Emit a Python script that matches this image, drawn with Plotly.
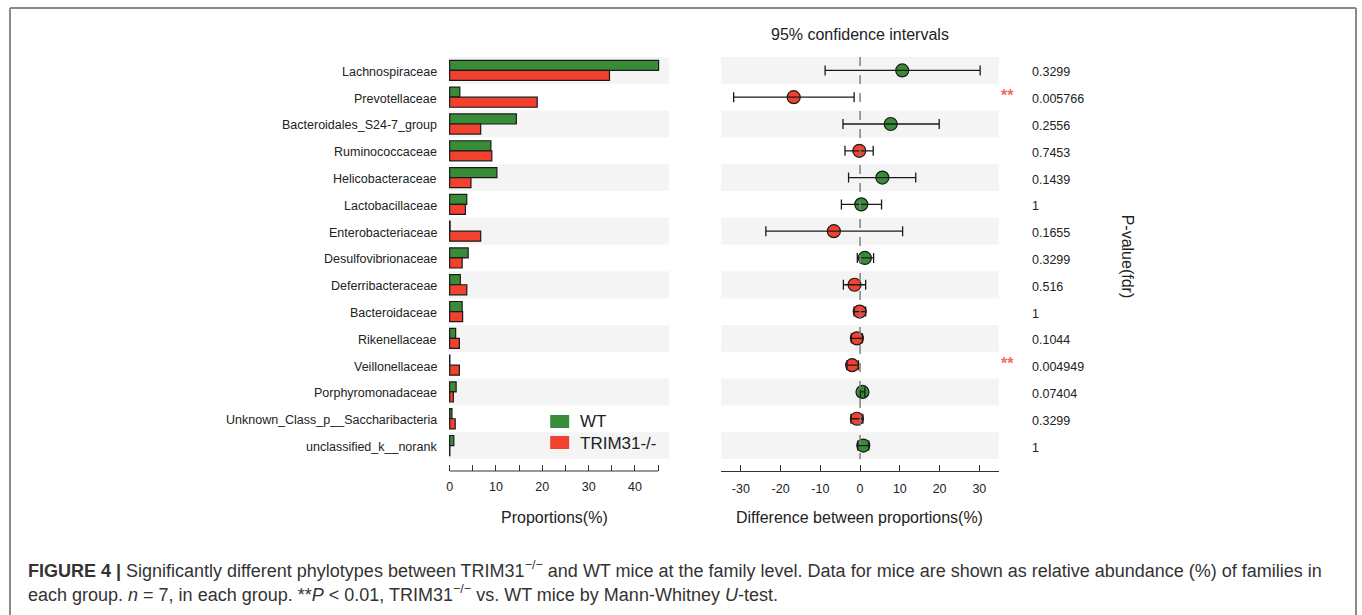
import plotly.graph_objects as go

# ---- data -------------------------------------------------------------
families = [
    "Lachnospiraceae", "Prevotellaceae", "Bacteroidales_S24-7_group",
    "Ruminococcaceae", "Helicobacteraceae", "Lactobacillaceae",
    "Enterobacteriaceae", "Desulfovibrionaceae", "Deferribacteraceae",
    "Bacteroidaceae", "Rikenellaceae", "Veillonellaceae",
    "Porphyromonadaceae", "Unknown_Class_p__Saccharibacteria",
    "unclassified_k__norank",
]
wt_prop = [45.1, 2.2, 14.4, 8.9, 10.2, 3.7, 0.1, 4.0, 2.3, 2.7, 1.3, 0.05, 1.4, 0.5, 0.9]
ko_prop = [34.5, 18.9, 6.7, 9.1, 4.6, 3.4, 6.7, 2.7, 3.7, 2.8, 2.1, 2.1, 0.8, 1.2, 0.05]
diff_mean = [10.6, -16.7, 7.7, -0.2, 5.6, 0.3, -6.6, 1.2, -1.4, -0.1, -0.8, -2.0, 0.6, -0.8, 0.8]
ci_low = [-8.8, -31.8, -4.3, -3.8, -2.9, -4.7, -23.7, -0.7, -4.2, -1.5, -2.2, -3.3, 0.1, -2.3, -0.6]
ci_high = [30.2, -1.5, 19.9, 3.3, 14.0, 5.4, 10.7, 3.4, 1.4, 1.4, 0.6, -0.4, 1.2, 0.7, 2.2]
p_fdr = ["0.3299", "0.005766", "0.2556", "0.7453", "0.1439", "1", "0.1655", "0.3299",
         "0.516", "1", "0.1044", "0.004949", "0.07404", "0.3299", "1"]
signif = ["", "**", "", "", "", "", "", "", "", "", "", "**", "", "", ""]

groups = ["WT", "TRIM31-/-"]
prop_labels = [0, 10, 20, 30, 40]
prop_minor = [5, 15, 25, 35, 45]
diff_labels = [-30, -20, -10, 0, 10, 20, 30]
diff_label_text = ["-30", "-20", "-10", "0", "10", "20", "30"]
diff_minor = [-35, 35]

# ---- styling ------------------------------------------------------------
W, H = 1362, 615
GREEN = "#388c38"
RED = "#f2412f"
STRIPE = "#f4f4f4"
FONT = "Liberation Sans, Arial, sans-serif"
TXT = "#222222"


def fx(px):
    return px / W


def fy(py):
    return 1 - py / H


rows = list(range(len(families)))
n = len(families)

fig = go.Figure()

# proportion bars (left panel)
fig.add_trace(go.Bar(
    y=rows, x=wt_prop, orientation="h", name=groups[0],
    marker=dict(color=GREEN, line=dict(color="#1a1a1a", width=1.2)),
    xaxis="x", yaxis="y", showlegend=False,
))
fig.add_trace(go.Bar(
    y=rows, x=ko_prop, orientation="h", name=groups[1],
    marker=dict(color=RED, line=dict(color="#1a1a1a", width=1.2)),
    xaxis="x", yaxis="y", showlegend=False,
))

# difference points (right panel), error bars drawn on top of the circles
point_colors = [GREEN if d > 0 else RED for d in diff_mean]
fig.add_trace(go.Scatter(
    x=diff_mean, y=rows, mode="markers",
    marker=dict(size=13, color=point_colors, line=dict(color="#1a1a1a", width=1.2)),
    xaxis="x2", yaxis="y", showlegend=False, hoverinfo="skip",
))
fig.add_trace(go.Scatter(
    x=diff_mean, y=rows, mode="markers",
    marker=dict(size=1, color="rgba(0,0,0,0)"),
    error_x=dict(type="data", symmetric=False,
                 array=[h - d for h, d in zip(ci_high, diff_mean)],
                 arrayminus=[d - l for d, l in zip(diff_mean, ci_low)],
                 color="#1a1a1a", thickness=1.3, width=5),
    xaxis="x2", yaxis="y", showlegend=False,
))

shapes = []
# alternating row stripes
for i in rows:
    if i % 2 == 0:
        shapes.append(dict(type="rect", xref="x", yref="y", x0=-0.28, x1=47.35,
                           y0=i - 0.5, y1=i + 0.5, fillcolor=STRIPE,
                           line=dict(width=0), layer="below"))
        shapes.append(dict(type="rect", xref="x2", yref="y", x0=-35, x1=35,
                           y0=i - 0.5, y1=i + 0.5, fillcolor=STRIPE,
                           line=dict(width=0), layer="below"))
# legend box background
shapes.append(dict(type="rect", xref="paper", yref="paper", x0=fx(532), x1=fx(668),
                   y0=fy(459), y1=fy(405), fillcolor="white", line=dict(width=0),
                   layer="below"))
# legend swatches
shapes.append(dict(type="rect", xref="paper", yref="paper", x0=fx(549), x1=fx(568),
                   y0=fy(428), y1=fy(415), fillcolor=GREEN, line=dict(width=0)))
shapes.append(dict(type="rect", xref="paper", yref="paper", x0=fx(549), x1=fx(568),
                   y0=fy(449), y1=fy(436), fillcolor=RED, line=dict(width=0)))
# left axis spine (0 to 45)
shapes.append(dict(type="line", xref="x", yref="paper", x0=0, x1=45,
                   y0=fy(471), y1=fy(471), line=dict(color="#333333", width=1)))
# zero reference line
shapes.append(dict(type="line", xref="x2", yref="y", x0=0, x1=0, y0=-0.5, y1=n - 0.5,
                   line=dict(color="#808080", width=1.5, dash="dash")))
# figure frame (left, top, right)
for x0, y0, x1, y1 in [(8, 615, 8, 8), (8, 8, 1356, 8), (1356, 8, 1356, 615)]:
    shapes.append(dict(type="line", xref="paper", yref="paper", x0=fx(x0), y0=fy(y0),
                       x1=fx(x1), y1=fy(y1), line=dict(color="#8a8a8a", width=2)))

annotations = []
for i in rows:
    # category names
    annotations.append(dict(x=fx(438), y=i, xref="paper", yref="y", text=families[i],
                            showarrow=False, xanchor="right", yanchor="middle",
                            font=dict(size=12.5, color=TXT, family=FONT), yshift=-1.5))
    # p-values
    annotations.append(dict(x=fx(1030), y=i, xref="paper", yref="y", text=p_fdr[i],
                            showarrow=False, xanchor="left", yanchor="middle",
                            font=dict(size=12.5, color=TXT, family=FONT), yshift=-2))
    if signif[i]:
        annotations.append(dict(x=fx(1007), y=i, xref="paper", yref="y",
                                text="<b>" + signif[i] + "</b>",
                                showarrow=False, xanchor="center", yanchor="middle",
                                font=dict(size=16, color="#f26b6b", family=FONT), yshift=2))


def label(px, py, text, size, **kw):
    d = dict(x=fx(px), y=fy(py), xref="paper", yref="paper", text=text,
             showarrow=False, yanchor="middle", xanchor=kw.pop("xanchor", "center"),
             font=dict(size=size, color=kw.pop("color", TXT), family=FONT))
    d.update(kw)
    return d


annotations += [
    label(859, 34, "95% confidence intervals", 16),
    label(553, 517, "Proportions(%)", 16),
    label(859, 517, "Difference between proportions(%)", 16),
    label(1128, 257, "P-value(fdr)", 16, textangle=90),
    label(577, 421.5, groups[0], 17, xanchor="left"),
    label(577, 443, groups[1], 17, xanchor="left"),
    label(24, 569,
          "<b>FIGURE 4 |</b> Significantly different phylotypes between TRIM31<sup>−/−</sup> "
          "and WT mice at the family level. Data for mice are shown as relative abundance (%) "
          "of families in", 18, xanchor="left", color="#333333"),
    label(24, 593,
          "each group. <i>n</i> = 7, in each group. **<i>P</i> &lt; 0.01, TRIM31<sup>−/−</sup> "
          "vs. WT mice by Mann-Whitney <i>U</i>-test.", 18, xanchor="left", color="#333333"),
]

fig.update_layout(
    width=W, height=H,
    margin=dict(l=0, r=0, t=0, b=0),
    paper_bgcolor="white", plot_bgcolor="white",
    barmode="group", bargap=0.25, bargroupgap=0,
    font=dict(family=FONT, color=TXT),
    xaxis=dict(domain=[fx(447), fx(668)], range=[-0.28, 47.35], anchor="y",
               tickvals=prop_labels, ticktext=[str(v) for v in prop_labels],
               ticks="inside", ticklen=6, tickcolor="#333333", tickwidth=1,
               minor=dict(tickvals=prop_minor, ticks="inside", ticklen=6,
                          tickcolor="#333333", tickwidth=1, showgrid=False),
               ticklabelstandoff=6,
               showline=False, showgrid=False, zeroline=False,
               tickfont=dict(size=12.5, color=TXT)),
    xaxis2=dict(domain=[fx(720), fx(998.7)], range=[-35, 35], anchor="y",
                tickvals=diff_labels, ticktext=diff_label_text,
                ticks="inside", ticklen=6, tickcolor="#333333", tickwidth=1,
                minor=dict(tickvals=diff_minor, ticks="inside", ticklen=6,
                           tickcolor="#333333", tickwidth=1, showgrid=False),
                ticklabelstandoff=6,
                showline=True, linecolor="#333333", linewidth=1,
                showgrid=False, zeroline=False,
                tickfont=dict(size=12.5, color=TXT)),
    yaxis=dict(domain=[fy(471), fy(57)], range=[n - 0.05, -0.5], anchor="x",
               showticklabels=False, ticks="",
               showline=False, showgrid=False, zeroline=False),
    shapes=shapes,
    annotations=annotations,
)

fig.write_html("out.html")
